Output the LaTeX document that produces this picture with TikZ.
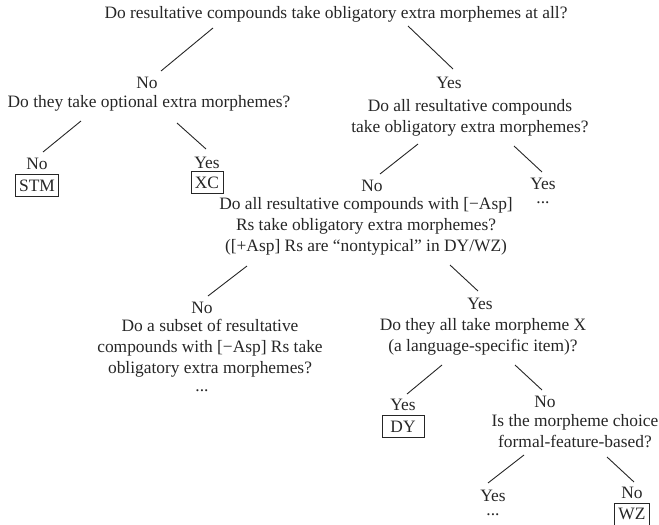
\documentclass[tikz,border=0pt]{standalone}
\usepackage{fontspec}
\setmainfont{Liberation Serif}
\usepackage{tikz}
\usetikzlibrary{positioning}
\tikzstyle{txt} = [inner sep=1pt, align=center, text=black!85]
\tikzstyle{leaf} = [draw=black!85, rectangle, line width=0.8pt, inner xsep=4pt,
    inner ysep=0pt, minimum height=22pt, text=black!85]
\tikzstyle{branch} = [draw=black!85, line width=0.9pt]

\begin{document}
\begin{tikzpicture}[x=1pt, y=-1pt, font=\fontsize{17.4}{21}\selectfont]
		\useasboundingbox (0,0) rectangle (659,525);
		
		\node[txt] (q0) at (336,14) {Do resultative compounds take obligatory extra morphemes at all?};
		
		\node[txt] (no1) at (147,83) {No};
		\node[txt] (q1) at (149,103) {Do they take optional extra morphemes?};
		\node[txt] (yes1) at (449,83) {Yes};
		\node[txt] (q2) at (470,117.5) {Do all resultative compounds\\take obligatory extra morphemes?};
		
		\node[txt] (no11) at (37,164) {No};
		\node[leaf, below=3pt of no11] (stm) {STM};
		\node[txt] (yes11) at (207,163) {Yes};
		\node[leaf, below=1pt of yes11] (xc) {XC};
		
		\node[txt] (no2) at (372,186) {No};
		\node[txt] (yes2) at (543,184) {Yes};
		\node[txt, below=10pt of yes2] (dots2) {...};
		\node[txt] (q3) at (366,226) {Do all resultative compounds with [−Asp]\\Rs take obligatory extra morphemes?\\([+Asp] Rs are “nontypical” in DY/WZ)};
		
		\node[txt] (no3) at (202,308) {No};
		\node[txt] (q4) at (210,348) {Do a subset of resultative\\compounds with [−Asp] Rs take\\obligatory extra morphemes?};
		\node[txt] (dots3) at (202,391) {...};
		\node[txt] (yes3) at (480,304) {Yes};
		\node[txt] (q5) at (483,337) {Do they all take morpheme X\\(a language-specific item)?};
		
		\node[txt] (yes5) at (403,405) {Yes};
		\node[leaf, below=3pt of yes5, minimum width=42pt] (dy) {DY};
		\node[txt] (no5) at (545,402) {No};
		\node[txt] (q6) at (575,431) {Is the morpheme choice\\formal-feature-based?};
		
		\node[txt] (yes6) at (493,496) {Yes};
		\node[txt, below=10pt of yes6] (dots6) {...};
		\node[txt] (no6) at (632,493) {No};
		\node[leaf, below=3pt of no6] (wz) {WZ};
		
		\draw[branch] ([shift={(-123,14)}]q0.center) -- ([shift={(14,-12)}]no1.center);
		\draw[branch] ([shift={(72,12)}]q0.center) -- ([shift={(4,-14)}]yes1.center);
		\draw[branch] ([shift={(-68,18)}]q1.center) -- ([shift={(6,-12)}]no11.center);
		\draw[branch] ([shift={(28,20)}]q1.center) -- ([shift={(-1,-14)}]yes11.center);
		\draw[branch] ([shift={(-52,26.5)}]q2.center) -- ([shift={(8,-12)}]no2.center);
		\draw[branch] ([shift={(44,28.5)}]q2.center) -- ([shift={(-1,-12)}]yes2.center);
		\draw[branch] ([shift={(-119,40)}]q3.center) -- ([shift={(6,-12)}]no3.center);
		\draw[branch] ([shift={(84,39)}]q3.center) -- ([shift={(-2,-13)}]yes3.center);
		\draw[branch] ([shift={(-41,28)}]q5.center) -- ([shift={(4,-11)}]yes5.center);
		\draw[branch] ([shift={(32,28)}]q5.center) -- ([shift={(-3,-12)}]no5.center);
		\draw[branch] ([shift={(-51,24)}]q6.center) -- ([shift={(-5,-13)}]yes6.center);
		\draw[branch] ([shift={(32,26)}]q6.center) -- ([shift={(2,-11)}]no6.center);
	\end{tikzpicture}
\end{document}
